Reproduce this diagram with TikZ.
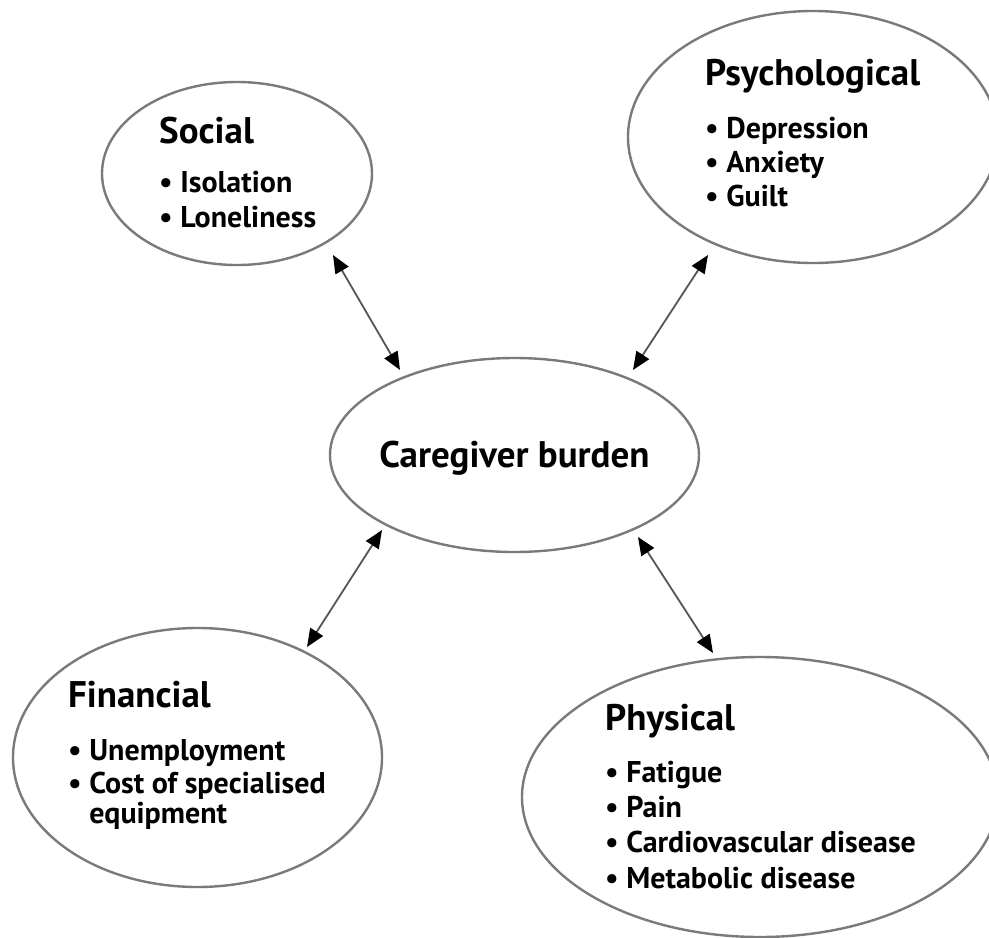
\documentclass[tikz,border=0pt]{standalone}
\usepackage{fontspec}
\setmainfont{PT Sans}
\usetikzlibrary{arrows.meta,shapes.geometric}
\definecolor{ellgray}{HTML}{7A7A7A}
\definecolor{linegray}{HTML}{555555}
\newcommand{\hfont}{\fontsize{37}{40}\selectfont\bfseries}
\newcommand{\ifont}{\fontsize{30}{33}\selectfont\bfseries}
\newcommand{\bul}{\textbullet\ }
\begin{document}
\begin{tikzpicture}[x=1pt,y=-1pt,
  bub/.style={draw=ellgray, line width=2.4pt, ellipse, inner sep=0pt},
  hd/.style={anchor=base west, inner sep=0pt, font=\hfont},
  it/.style={anchor=base west, inner sep=0pt, font=\ifont},
  link/.style={draw=linegray, line width=1.8pt,
    {Triangle[length=18pt,width=15pt,color=black]}-{Triangle[length=18pt,width=15pt,color=black]}}]
\clip (0,0) rectangle (989,938);
\fill[white] (0,0) rectangle (989,938);
% ellipses
\node[bub, minimum width=270pt, minimum height=183pt] (soc) at (237,173.5) {};
\node[bub, minimum width=370pt, minimum height=252pt] (psy) at (813,137) {};
\node[bub, minimum width=369pt, minimum height=194pt] (cb) at (514.5,455) {};
\node[bub, minimum width=369pt, minimum height=259pt] (fin) at (197.5,757.5) {};
\node[bub, minimum width=476pt, minimum height=280pt] (phy) at (760,797) {};
% texts
\node[hd] (soch) at (159,143) {Social};
\node[it] (soc1) at (159,192) {\bul Isolation};
\node[it] (soc2) at (159,227) {\bul Loneliness};
\node[hd] (psyh) at (705,85) {Psychological};
\node[it] (psy1) at (705,138) {\bul Depression};
\node[it] (psy2) at (705,172) {\bul Anxiety};
\node[it] (psy3) at (705,206) {\bul Guilt};
\node[hd, anchor=base] (cbh) at (514.5,467) {Caregiver burden};
\node[hd] (finh) at (68,707) {Financial};
\node[it] (fin1) at (68,760) {\bul Unemployment};
\node[it] (fin2) at (68,793) {\bul Cost of specialised};
\node[it] (fin3) at (68,823) {\phantom{\bul}equipment};
\node[hd] (phyh) at (605,730) {Physical};
\node[it] (phy1) at (605,782) {\bul Fatigue};
\node[it] (phy2) at (605,817) {\bul Pain};
\node[it] (phy3) at (605,852) {\bul Cardiovascular disease};
\node[it] (phy4) at (605,888) {\bul Metabolic disease};
% arrow ends
\coordinate (a1s) at (333,255); \coordinate (a1c) at (400,370);
\coordinate (a2p) at (708,255); \coordinate (a2c) at (633,370);
\coordinate (a3c) at (382,530); \coordinate (a3f) at (307,647);
\coordinate (a4c) at (638,537); \coordinate (a4p) at (713,653);
\draw[link] (a1s) -- (a1c);
\draw[link] (a2p) -- (a2c);
\draw[link] (a3c) -- (a3f);
\draw[link] (a4c) -- (a4p);
\end{tikzpicture}
\end{document}
